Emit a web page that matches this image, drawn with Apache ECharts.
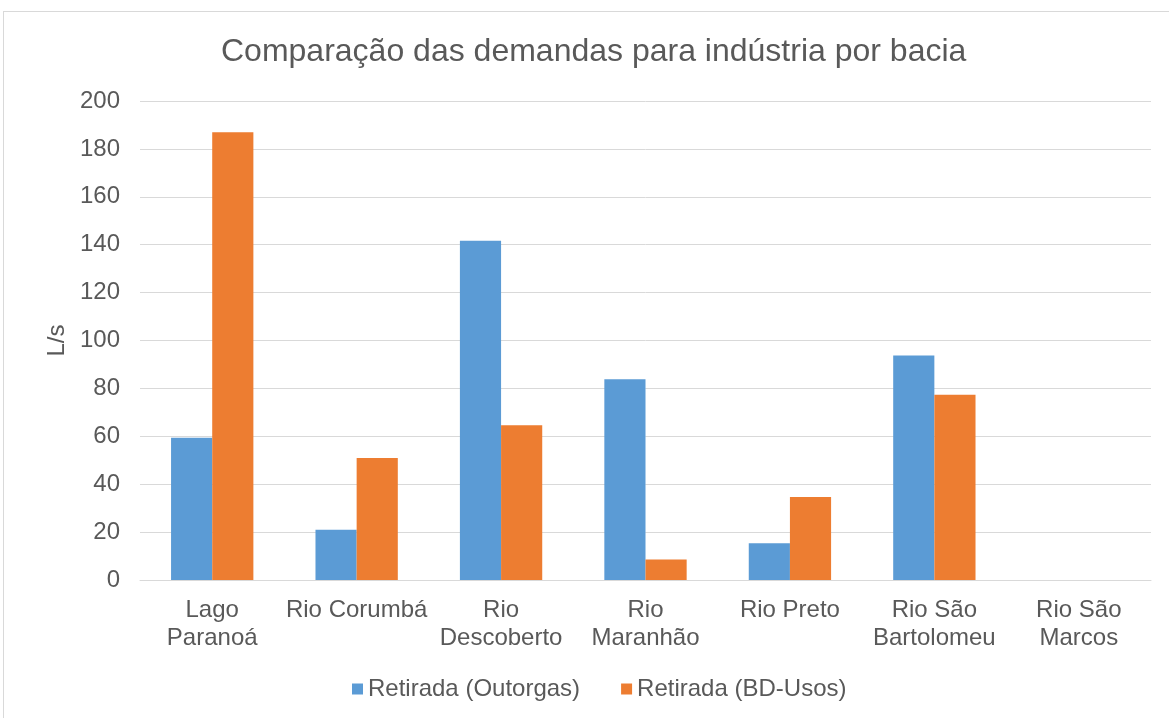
<!DOCTYPE html>
<html>
<head>
<meta charset="utf-8">
<script src="https://cdn.jsdelivr.net/npm/echarts@6/dist/echarts.min.js"></script>
<style>
  html, body { margin: 0; padding: 0; background: #fff; }
  #frame { position: absolute; left: 3px; top: 11px; width: 1166px; height: 707px; border: 1px solid #d9d9d9; border-right: none; border-bottom: none; box-sizing: border-box; }
  #chart { width: 1169px; height: 718px; }
</style>
</head>
<body>
<div id="frame"></div>
<div id="chart"></div>
<script>
// bacias
var categorias = ['Lago\nParanoá', 'Rio Corumbá', 'Rio\nDescoberto', 'Rio\nMaranhão', 'Rio Preto', 'Rio São\nBartolomeu', 'Rio São\nMarcos'];
var outorgas = [59.4, 21.0, 141.7, 83.8, 15.3, 93.7, 0];
var bdUsos = [186.9, 50.9, 64.6, 8.6, 34.7, 77.4, 0];
var ticksY = [0, 20, 40, 60, 80, 100, 120, 140, 160, 180, 200];

var fonte = 'Liberation Sans, Arial, sans-serif';
var cinza = '#595959';

var myChart = echarts.init(document.getElementById('chart'));
var option = {
  animation: false,
  title: {
    text: 'Comparação das demandas para indústria por bacia',
    left: 216,
    top: 31,
    textStyle: { fontFamily: fonte, fontSize: 32, fontWeight: 'normal', color: cinza }
  },
  legend: {
    bottom: 12,
    left: 347,
    itemWidth: 11,
    itemHeight: 11,
    itemGap: 41,
    icon: 'rect',
    textStyle: { fontFamily: fonte, fontSize: 24, color: cinza }
  },
  grid: { left: 140, right: 18, top: 101, bottom: 138 },
  xAxis: {
    type: 'category',
    data: categorias,
    axisLine: { lineStyle: { color: '#d9d9d9', width: 1 } },
    axisTick: { show: false },
    axisLabel: { fontFamily: fonte, fontSize: 24, color: cinza, lineHeight: 28, margin: 16, interval: 0 }
  },
  yAxis: {
    type: 'value',
    min: ticksY[0],
    max: ticksY[ticksY.length - 1],
    interval: 20,
    name: 'L/s',
    nameLocation: 'middle',
    nameGap: 68,
    nameRotate: 90,
    nameTextStyle: { fontFamily: fonte, fontSize: 24, color: cinza },
    axisLine: { show: false },
    axisTick: { show: false },
    axisLabel: { fontFamily: fonte, fontSize: 24, color: cinza, margin: 20 },
    splitLine: { lineStyle: { color: '#d9d9d9', width: 1 } }
  },
  series: [
    {
      name: 'Retirada (Outorgas)',
      type: 'bar',
      data: outorgas,
      barGap: '0%',
      barCategoryGap: '43%',
      itemStyle: { color: '#5b9bd5' }
    },
    {
      name: 'Retirada (BD-Usos)',
      type: 'bar',
      data: bdUsos,
      itemStyle: { color: '#ed7d31' }
    }
  ]
};
myChart.setOption(option);
window.addEventListener('resize', function () {
  myChart.resize();
});
</script>
</body>
</html>
